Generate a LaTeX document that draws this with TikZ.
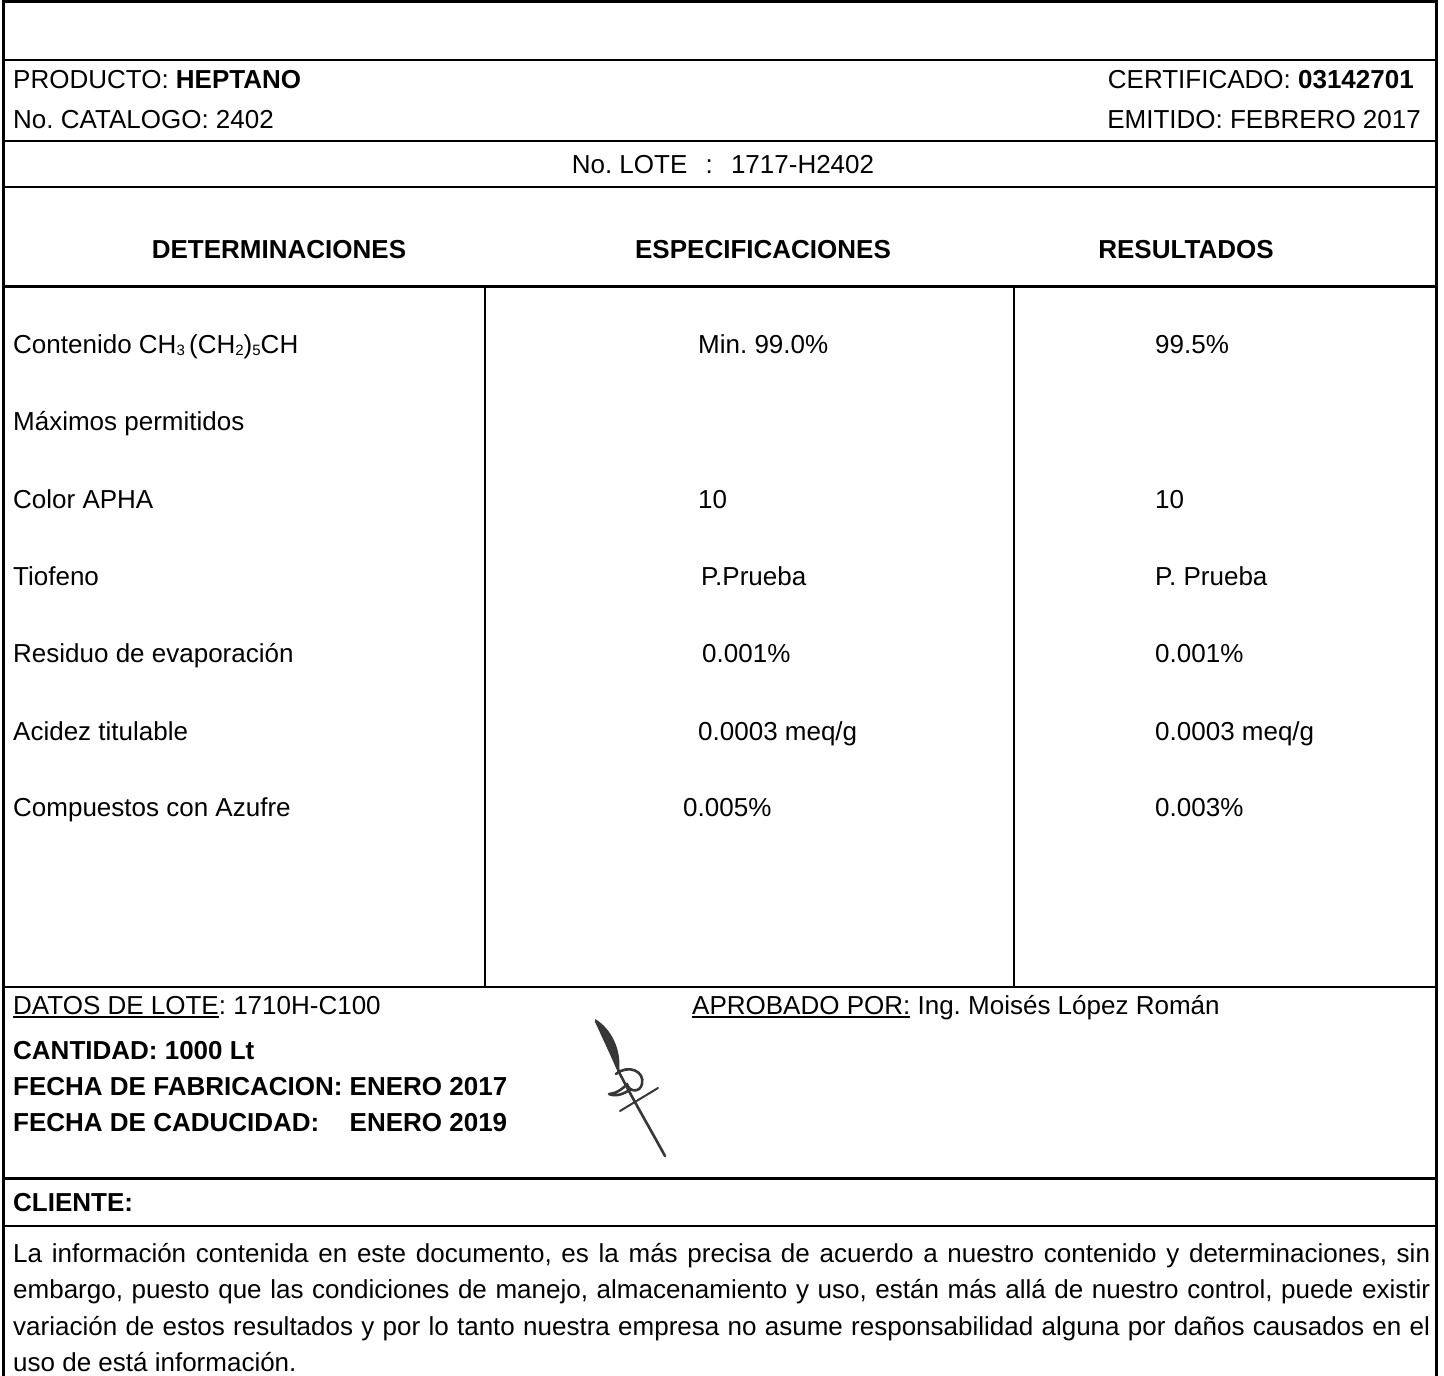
\documentclass[tikz,border=0pt]{standalone}
\usepackage{fontspec}
\setmainfont{Liberation Sans}
\frenchspacing
\definecolor{sigink}{RGB}{55,55,55}
\newcommand\myul[1]{\setbox0=\hbox{#1}\rlap{\rule[-3.5pt]{\wd0}{1.6pt}}\box0\relax}
\newcommand\chsub[1]{\raisebox{-2.5pt}{\fontsize{15}{15}\selectfont #1}}
\begin{document}
\begin{tikzpicture}[x=1pt,y=-1pt,
  txt/.style={inner sep=0pt, font=\fontsize{26}{31}\selectfont},
  lw/.style={anchor=base west},
  rule/.style={line width=2.5pt, black},
  colrule/.style={line width=2pt, black},
  sig/.style={line width=2.6pt, draw=sigink, line cap=round, line join=round}]
\path[use as bounding box, fill=white] (0,0) rectangle (1444,1376);
% frame and rules
\draw[rule] (3.7,1376) -- (3.7,1.5) -- (1436.5,1.5) -- (1436.5,1376);
\foreach \yy in {60,141,187,286.5,987,1178.5,1226}
  \draw[rule] (3.7,\yy) -- (1436.5,\yy);
\draw[colrule] (485,286.5) -- (485,987);
\draw[colrule] (1013.5,286.5) -- (1013.5,987);
% header block
\node[txt,lw] (prod) at (13,88) {PRODUCTO: \textbf{HEPTANO}};
\node[txt,lw] (cat) at (13,128) {No. CATALOGO: 2402};
\node[txt,anchor=base east] (cert) at (1414,88) {CERTIFICADO: \textbf{03142701}};
\node[txt,anchor=base east] (emit) at (1421,128) {EMITIDO: FEBRERO 2017};
\node[txt,anchor=base] (lote) at (723,173) {No. LOTE\hspace{0.7em}:\hspace{0.7em}1717-H2402};
% column headers
\node[txt,anchor=base,font=\fontsize{26}{31}\selectfont\bfseries] (hdet) at (279,258) {DETERMINACIONES};
\node[txt,anchor=base,font=\fontsize{26}{31}\selectfont\bfseries] (hesp) at (763,258) {ESPECIFICACIONES};
\node[txt,anchor=base,font=\fontsize{26}{31}\selectfont\bfseries] (hres) at (1186,258) {RESULTADOS};
% rows
\node[txt,lw] (d1) at (13,353) {Contenido CH\chsub{3}\,(CH\chsub{2})\chsub{5}CH};
\node[txt,lw] (d2) at (13,430) {Máximos permitidos};
\node[txt,lw] (d3) at (13,508) {Color APHA};
\node[txt,lw] (d4) at (13,585) {Tiofeno};
\node[txt,lw] (d5) at (13,662) {Residuo de evaporación};
\node[txt,lw] (d6) at (13,740) {Acidez titulable};
\node[txt,lw] (d7) at (13,816) {Compuestos con Azufre};
\node[txt,lw] (e1) at (698,353) {Min. 99.0\%};
\node[txt,lw] (e3) at (698,508) {10};
\node[txt,lw] (e4) at (701,585) {P.Prueba};
\node[txt,lw] (e5) at (702,662) {0.001\%};
\node[txt,lw] (e6) at (698,740) {0.0003 meq/g};
\node[txt,lw] (e7) at (683,816) {0.005\%};
\node[txt,lw] (r1) at (1155,353) {99.5\%};
\node[txt,lw] (r3) at (1155,508) {10};
\node[txt,lw] (r4) at (1155,585) {P. Prueba};
\node[txt,lw] (r5) at (1155,662) {0.001\%};
\node[txt,lw] (r6) at (1155,740) {0.0003 meq/g};
\node[txt,lw] (r7) at (1155,816) {0.003\%};
% lot data
\node[txt,lw] (datos) at (13,1014) {\myul{DATOS DE LOTE}: 1710H-C100};
\node[txt,lw] (aprob) at (692,1014) {\myul{APROBADO POR:} Ing. Moisés López Román};
\node[txt,lw,font=\fontsize{26}{31}\selectfont\bfseries] (cant) at (13,1059) {CANTIDAD: 1000 Lt};
\node[txt,lw,font=\fontsize{26}{31}\selectfont\bfseries] (fab) at (13,1095) {FECHA DE FABRICACION: ENERO 2017};
\node[txt,lw,font=\fontsize{26}{31}\selectfont\bfseries] (cad) at (13,1131) {\rlap{FECHA DE CADUCIDAD:}\hphantom{FECHA DE FABRICACION: }ENERO 2019};
% signature
\fill[sigink] (595,1019) .. controls (611,1028) and (622,1050) .. (619,1072)
   .. controls (611,1054) and (601,1037) .. (595,1019) -- cycle;
\draw[sig] (596,1021) .. controls (606,1042) and (614,1060) .. (620,1074)
   .. controls (636,1105) and (652,1132) .. (665,1156);
\draw[sig] (616,1074) .. controls (628,1064) and (645,1071) .. (642,1084)
   .. controls (640,1093) and (629,1092) .. (627,1084)
   .. controls (622,1090) and (614,1094) .. (609,1094)
   .. controls (616,1097) and (624,1094) .. (631,1089);
\draw[sig, line width=2pt] (620,1111) -- (658,1088);
% client and disclaimer
\node[txt,lw,font=\fontsize{26}{31}\selectfont\bfseries] (cli) at (13,1211) {CLIENTE:};
\node[txt,lw] (p1) at (13,1262) {\makebox[1417pt][s]{La información contenida en este documento, es la más precisa de acuerdo a nuestro contenido y determinaciones, sin}};
\node[txt,lw] (p2) at (13,1298) {\makebox[1417pt][s]{embargo, puesto que las condiciones de manejo, almacenamiento y uso, están más allá de nuestro control, puede existir}};
\node[txt,lw] (p3) at (13,1335) {\makebox[1417pt][s]{variación de estos resultados y por lo tanto nuestra empresa no asume responsabilidad alguna por daños causados en el}};
\node[txt,lw] (p4) at (13,1371) {uso de está información.};
\end{tikzpicture}
\end{document}
